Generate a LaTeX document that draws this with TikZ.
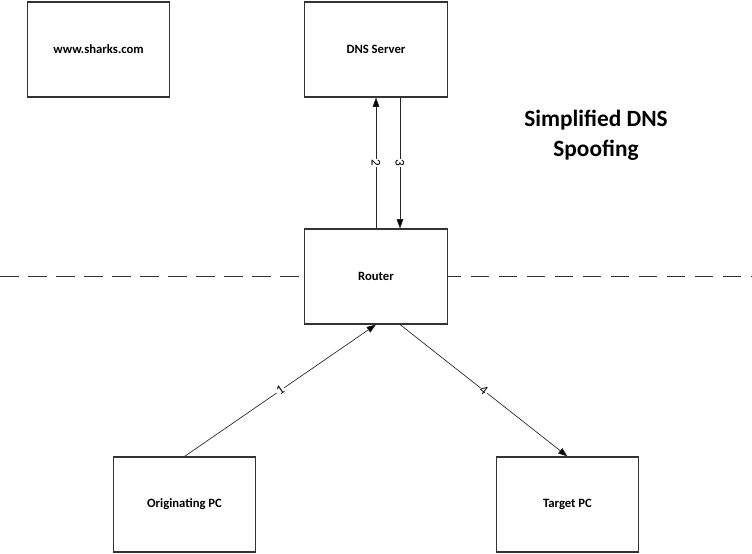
\documentclass[tikz,border=0pt]{standalone}
\usepackage{fontspec}
\setmainfont{Carlito}
\usetikzlibrary{arrows.meta}
\begin{document}
\begin{tikzpicture}[x=0.75pt,y=-0.75pt,
  box/.style={draw=black!80,line width=0.8pt,minimum width=107pt,minimum height=71.25pt,inner sep=0pt,font=\fontsize{9.5}{11}\selectfont\bfseries},
  conn/.style={line width=0.5pt,draw=black!85,-{Triangle[length=7pt,width=5pt,fill=black]}},
  lbl/.style={fill=white,inner sep=0.6pt,font=\fontsize{10}{12}\selectfont}]
\useasboundingbox (0,0) rectangle (752,553);
\node[box] (sharks) at (98.5,49.5) {www.sharks.com};
\node[box] (dns) at (376,49.5) {DNS Server};
\node[box] (router) at (376,276.5) {Router};
\node[box] (orig) at (184.5,504.5) {Originating PC};
\node[box] (target) at (567.5,504.5) {Target PC};
\node[font=\fontsize{17.5}{22.5}\selectfont\bfseries,align=center] (title) at (596,135) {Simplified DNS\\Spoofing};
\coordinate (dl) at (0,276.5);
\coordinate (dr) at (752,276.5);
\draw[dash pattern=on 14pt off 7pt,line width=0.6pt,black!80] (dl) -- (router.west);
\draw[dash pattern=on 14pt off 7pt,dash phase=4pt,line width=0.6pt,black!80] (router.east) -- (dr);
\draw[conn] (router.north) -- node[lbl,rotate=-90,pos=0.5] {2} (dns.south);
\draw[conn] ([xshift=18pt]dns.south) -- node[lbl,rotate=-90,pos=0.5] {3} ([xshift=18pt]router.north);
\draw[conn] (orig.north) -- node[lbl,sloped,pos=0.5] {1} (router.south);
\draw[conn] ([xshift=18pt]router.south) -- node[lbl,sloped,pos=0.5] {4} (target.north);
\end{tikzpicture}
\end{document}
